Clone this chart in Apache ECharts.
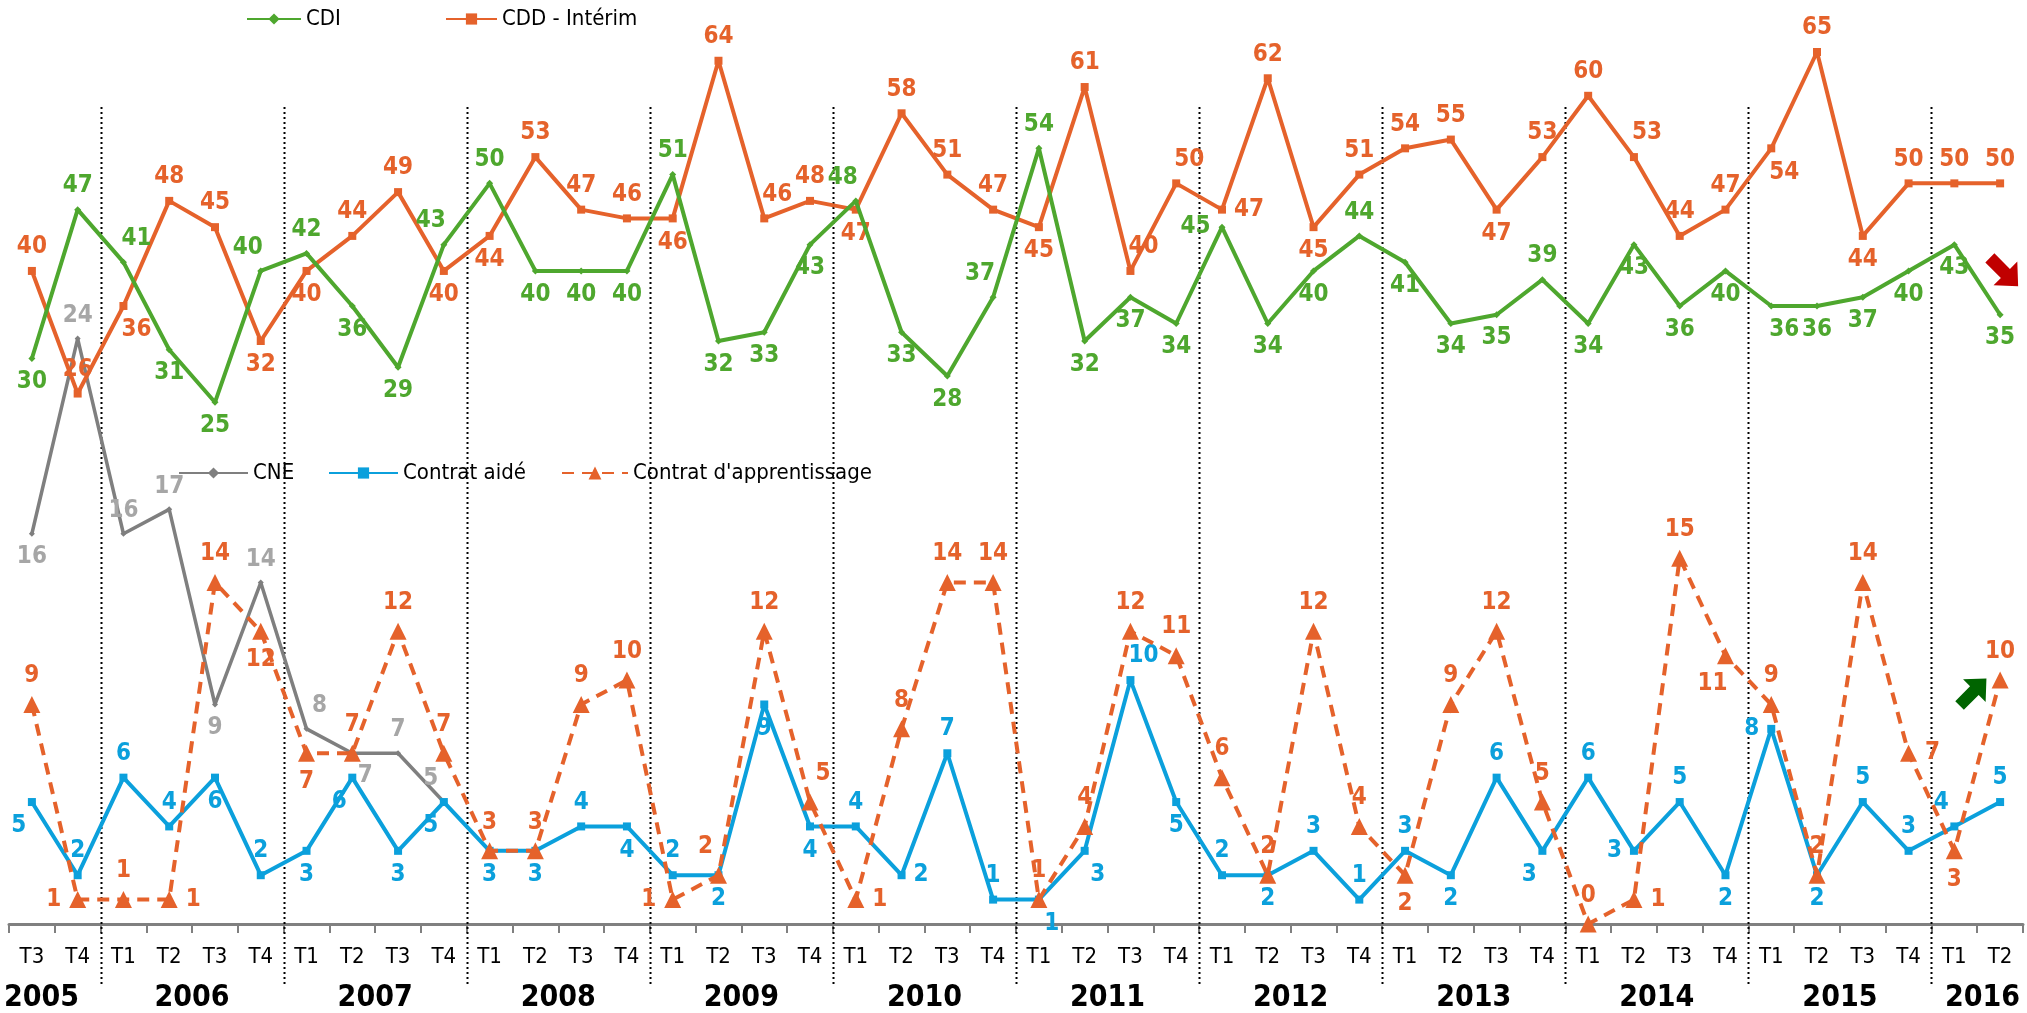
<!DOCTYPE html>
<html><head><meta charset="utf-8">
<script src="https://cdn.jsdelivr.net/npm/echarts@6/dist/echarts.min.js"></script>
<style>html,body{margin:0;padding:0;background:#fff}#c{width:2027px;height:1013px}</style>
</head><body><div id="c"></div>
<script>
// ---- data ----
const quarterLabels = ['T3','T4',
  'T1','T2','T3','T4','T1','T2','T3','T4','T1','T2','T3','T4','T1','T2','T3','T4',
  'T1','T2','T3','T4','T1','T2','T3','T4','T1','T2','T3','T4','T1','T2','T3','T4',
  'T1','T2','T3','T4','T1','T2','T3','T4','T1','T2'];
const yearLabels = ['2005','2006','2007','2008','2009','2010','2011','2012','2013','2014','2015','2016'];
const yearQuarters = [2,4,4,4,4,4,4,4,4,4,4,2];

const cdi  = [30,47, 41,31,25,40, 42,36,29,43, 50,40,40,40, 51,32,33,43, 48,33,28,37, 54,32,37,34, 45,34,40,44, 41,34,35,39, 34,43,36,40, 36,36,37,40, 43,35];
const cdd  = [40,26, 36,48,45,32, 40,44,49,40, 44,53,47,46, 46,64,46,48, 47,58,51,47, 45,61,40,50, 47,62,45,51, 54,55,47,53, 60,53,44,47, 54,65,44,50, 50,50];
const cne  = [16,24, 16,17,9,14, 8,7,7,5];
const aide = [5,2, 6,4,6,2, 3,6,3,5, 3,3,4,4, 2,2,9,4, 4,2,7,1, 1,3,10,5, 2,2,3,1, 3,2,6,3, 6,3,5,2, 8,2,5,3, 4,5];
const appr = [9,1, 1,1,14,12, 7,7,12,7, 3,3,9,10, 1,2,12,5, 1,8,14,14, 1,4,12,11, 6,2,12,4, 2,9,12,5, 0,1,15,11, 9,2,14,7, 3,10];

// ---- label placement (style) ----
const cdiPos  = ['b','t','tr','b','b','tl','t','b','b','tl','t','b','b','b','t','b','b','b','tl','b','b','tl','t','b','b','b','l','b','b','t','b','b','b','t','b','b','b','b','br','b','b','b','b','b'];
const cddPos  = ['t','t','br','t','t','b','b','t','t','b','b','t','t','t','b','t','tr','t','b','t','t','t','b','t','tr','tr','r','t','b','t','t','t','b','t','t','tr','t','t','br','t','b','t','t','t'];
const cnePos  = ['b','t','t','t','b','t','tr','br','t','tl'];
const aidePos = ['bl','t','t','t','b','t','b','bl','b','bl','b','b','t','b','t','b','b','b','t','r','t','t','br','br','tr','b','t','b','t','t','t','b','t','bl','t','l','t','b','l','b','t','t','tl','t'];
const apprPos = ['t','l','t','r','t','b','b','t','t','t','t','t','t','t','l','tl','t','tr','r','t','t','t','t','t','t','t','t','t','t','t','b','t','t','t','t','r','t','bl','t','t','t','r','b','t'];

const NARROW = '"Liberation Sans Narrow","Arial Narrow","DejaVu Sans Condensed",sans-serif';
const LEG = '"DejaVu Sans Condensed","Liberation Sans Narrow",sans-serif';
const GREEN='#4EA72E', ORANGE='#E5622B', GREY='#7F7F7F', GREYL='#A6A6A6', BLUE='#0BA0DC';

function posLabel(code, color){
  const m = {t:['top',[0,0]], b:['bottom',[0,0]], l:['left',[0,0]], r:['right',[0,0]],
             tl:['top',[-13,0]], tr:['top',[13,0]], bl:['bottom',[-13,0]], br:['bottom',[13,0]]}[code] || ['top',[0,0]];
  return {show:true, position:m[0], offset:m[1], distance:8, color:color,
          fontFamily:NARROW, fontWeight:'bold', fontSize:24};
}
function build(vals, pos, color){
  return vals.map((v,i)=>({value:v, label:posLabel(pos[i], color)}));
}

const chart = echarts.init(document.getElementById('c'), null, {renderer:'canvas'});
const legendText = {fontFamily:LEG, fontSize:22, color:'#000'};
const option = {
  animation:false,
  backgroundColor:'#fff',
  grid:{left:9, right:4, top:52, bottom:89},
  legend:[
    {data:['CDI'], left:241, top:3, itemWidth:54, itemHeight:14, itemGap:0, textStyle:legendText},
    {data:['CDD - Intérim'], left:440, top:3, itemWidth:51, itemHeight:14, itemGap:0, textStyle:legendText},
    {data:['CNE'], left:173, top:457, itemWidth:69, itemHeight:14, itemGap:0, textStyle:legendText},
    {data:['Contrat aidé'], left:323, top:457, itemWidth:69, itemHeight:14, itemGap:0, textStyle:legendText},
    {data:["Contrat d'apprentissage"], left:556, top:457, itemWidth:66, itemHeight:16, itemGap:0, textStyle:legendText}
  ],
  xAxis:[{
    type:'category', data:quarterLabels, boundaryGap:true,
    axisLine:{onZero:false, lineStyle:{color:'#808080', width:3}},
    axisTick:{show:true, length:9, lineStyle:{color:'#808080', width:2}},
    axisLabel:{margin:22, fontSize:22, color:'#000', fontFamily:NARROW, interval:0},
    splitLine:{show:false}
  }],
  yAxis:[
    {type:'value', min:-34.57, max:65, show:false},
    {type:'value', min:0, max:35.75, show:false}
  ],
  series:[
    {name:'CNE', type:'line', yAxisIndex:1, data:build(cne, cnePos, GREYL), clip:false,
     symbol:'diamond', symbolSize:6, itemStyle:{color:GREY}, lineStyle:{color:GREY, width:3.5}, z:2},
    {name:'Contrat aidé', type:'line', yAxisIndex:1, data:build(aide, aidePos, BLUE), clip:false,
     symbol:'rect', symbolSize:8, itemStyle:{color:BLUE}, lineStyle:{color:BLUE, width:4}, z:3},
    {name:"Contrat d'apprentissage", type:'line', yAxisIndex:1, data:build(appr, apprPos, ORANGE), clip:false,
     symbol:'triangle', symbolSize:17, itemStyle:{color:ORANGE}, lineStyle:{color:ORANGE, width:4, type:[12,8]}, z:4},
    {name:'CDD - Intérim', type:'line', yAxisIndex:0, data:build(cdd, cddPos, ORANGE), clip:false,
     symbol:'rect', symbolSize:8, itemStyle:{color:ORANGE}, lineStyle:{color:ORANGE, width:4}, z:5},
    {name:'CDI', type:'line', yAxisIndex:0, data:build(cdi, cdiPos, GREEN), clip:false,
     symbol:'diamond', symbolSize:7, itemStyle:{color:GREEN}, lineStyle:{color:GREEN, width:4}, z:6}
  ]
};
chart.setOption(option);

// ---- decorations derived from the axis scale ----
const px = i => chart.convertToPixel({xAxisIndex:0}, i);
const band = px(1) - px(0);
const graphics = [];
let start = 0;
yearQuarters.forEach((n, k) => {
  if (k > 0) {
    const xb = Math.round((px(start-1) + px(start)) / 2) + 0.5;
    graphics.push({type:'line', silent:true, z:1,
      shape:{x1:xb, y1:107, x2:xb, y2:985},
      style:{stroke:'#000', lineWidth:2, lineDash:[2,3]}});
  }
  let cx = (px(start) + px(start+n-1)) / 2, align = 'center';
  if (k === 0) { cx = px(0) - band/2 - 5; align = 'left'; }
  if (k === yearQuarters.length-1) { cx = px(start+n-1) + band/2 - 3; align = 'right'; }
  graphics.push({type:'text', silent:true, x:cx, y:998,
    style:{text:yearLabels[k], fill:'#000', font:'bold 30px ' + NARROW, textAlign:align, textVerticalAlign:'middle'}});
  start += n;
});

function arrow(cx, cy, L, dx, dy, color){
  const base = [[-0.5,-0.16],[0.05,-0.16],[0.05,-0.42],[0.5,0],[0.05,0.42],[0.05,0.16],[-0.5,0.16]];
  const nx = -dy, ny = dx;
  const pts = base.map(([a,b]) => [cx + L*(a*dx + b*nx), cy + L*(a*dy + b*ny)]);
  return {type:'polygon', silent:true, shape:{points:pts}, style:{fill:color}};
}
const r2 = Math.SQRT1_2;
graphics.push(arrow(2004, 272, 40, r2, r2, '#C00000'));
graphics.push(arrow(1973, 692, 38, r2, -r2, '#006400'));
chart.setOption({graphic:graphics});
</script>
</body></html>
